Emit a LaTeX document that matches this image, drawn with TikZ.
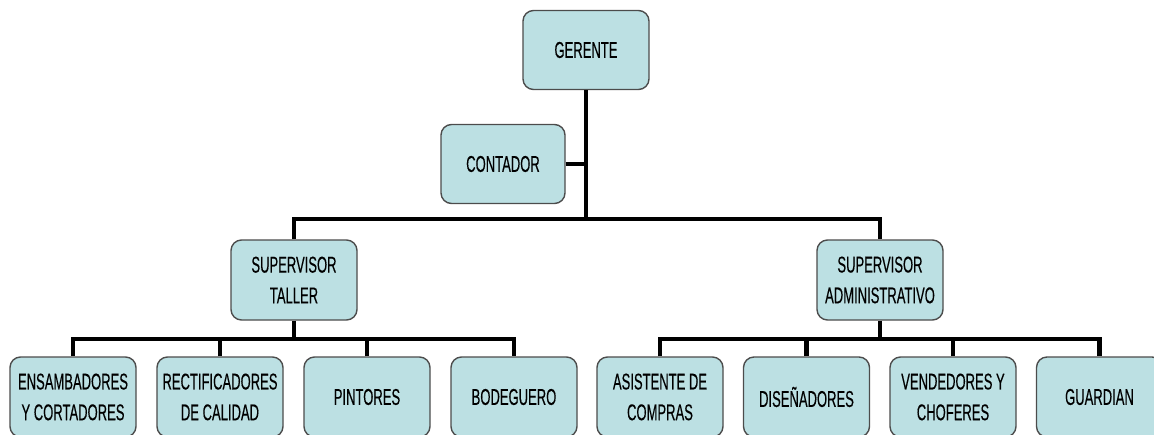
\documentclass[tikz,border=0pt]{standalone}
\usepackage{fontspec}
\setmainfont[FakeStretch=0.57,FakeBold=0.3]{Liberation Sans}
\definecolor{boxfill}{RGB}{188,224,227}
\begin{document}
\begin{tikzpicture}[
    box/.style={draw=black!70,line width=0.8pt,fill=boxfill,rounded corners=6pt,align=center,
        minimum width=2.52cm,minimum height=1.58cm,inner sep=2pt,
        font=\fontsize{13}{17.5}\selectfont},
    lowbox/.style={box,minimum height=1.6cm},
    con/.style={line width=2.6pt,black}
]
\clip (0,0) rectangle (23.08,8.68);
\node[box] (ger) at (11.72,7.68) {GERENTE};
\node[box,minimum width=2.48cm] (cont) at (10.06,5.40) {CONTADOR};
\node[box,minimum height=1.6cm] (sup-t) at (5.88,3.08) {SUPERVISOR\\TALLER};
\node[box,minimum height=1.6cm] (sup-a) at (17.60,3.08) {SUPERVISOR\\ADMINISTRATIVO};
\node[lowbox] (ens) at (1.46,0.74) {ENSAMBADORES\\Y CORTADORES};
\node[lowbox] (rec) at (4.40,0.74) {RECTIFICADORES\\DE CALIDAD};
\node[lowbox] (pin) at (7.34,0.74) {PINTORES};
\node[lowbox] (bod) at (10.28,0.74) {BODEGUERO};
\node[lowbox] (asi) at (13.20,0.74) {ASISTENTE DE\\COMPRAS};
\node[lowbox] (dis) at (16.13,0.74) {DISEÑADORES};
\node[lowbox] (ven) at (19.06,0.74) {VENDEDORES Y\\CHOFERES};
\node[lowbox] (gua) at (21.99,0.74) {GUARDIAN};
% junctions
\coordinate (top) at (11.72,4.30);
\coordinate (jt) at (5.88,1.90);
\coordinate (ja) at (17.60,1.90);
\draw[con] (ger.south) -- (top);
\draw[con] (cont.east) -- (cont.east -| ger.south);
\draw[con] (sup-t.north) |- (top) -| (sup-a.north);
\draw[con] (sup-t.south) -- (jt);
\draw[con] (sup-a.south) -- (ja);
\draw[con] (ens.north) |- (jt) -| (bod.north);
\draw[con] (asi.north) |- (ja) -| (gua.north);
\foreach \n in {rec,pin} \draw[con] (\n.north) -- (\n.north |- jt);
\foreach \n in {dis,ven} \draw[con] (\n.north) -- (\n.north |- ja);
\end{tikzpicture}
\end{document}
